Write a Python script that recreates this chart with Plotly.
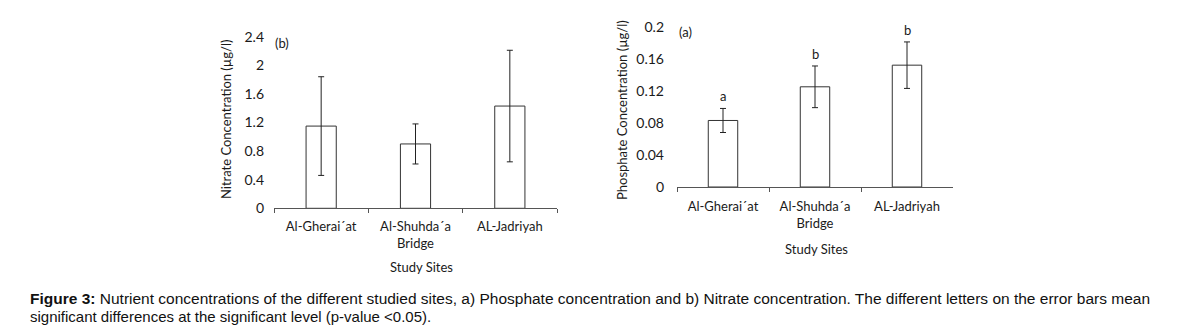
import plotly.graph_objects as go

sites = ["Al-Gherai´at", "Al-Shuhda´a<br>Bridge", "AL-Jadriyah"]

nitrate_mean = [1.15, 0.90, 1.43]
nitrate_err = [0.69, 0.28, 0.78]
nitrate_ticks = [0, 0.4, 0.8, 1.2, 1.6, 2, 2.4]
nitrate_ticktext = ["0", "0.4", "0.8", "1.2", "1.6", "2", "2.4"]

phosphate_mean = [0.083, 0.125, 0.152]
phosphate_err = [0.015, 0.026, 0.029]
phosphate_letters = ["a", "b", "b"]
phosphate_ticks = [0, 0.04, 0.08, 0.12, 0.16, 0.2]
phosphate_ticktext = ["0", "0.04", "0.08", "0.12", "0.16", "0.2"]

# page body has an 8px margin: the figure occupies 8..1180 x 8..336
OFF = 8
W, H = 1180 - OFF, 336 - OFF


def px(x):
    return (x - OFF) / W


def py(y):
    return (H - (y - OFF)) / H


CF = "Lato, 'Open Sans', sans-serif"
TXT = "#1a1a1a"

fig = go.Figure()

bar_style = dict(marker=dict(color="white", line=dict(color="#333333", width=1)),
                 width=0.32, showlegend=False)

fig.add_trace(go.Bar(x=sites, y=nitrate_mean, xaxis="x", yaxis="y",
                     error_y=dict(type="data", array=nitrate_err, color="#222222",
                                  thickness=1, width=3), **bar_style))
fig.add_trace(go.Bar(x=sites, y=phosphate_mean, xaxis="x2", yaxis="y2",
                     error_y=dict(type="data", array=phosphate_err, color="#222222",
                                  thickness=1, width=3), **bar_style))

xcommon = dict(type="category", showline=True, linecolor="#555555", linewidth=1,
               ticks="outside", tickson="boundaries", ticklen=4, tickcolor="#555555",
               tickfont=dict(family=CF, size=13, color=TXT), showgrid=False,
               zeroline=False, fixedrange=True, automargin=False)
ycommon = dict(showline=False, showgrid=False, zeroline=False, ticks="",
               tickfont=dict(family=CF, size=14, color=TXT), fixedrange=True,
               automargin=False)

fig.update_layout(
    width=W, height=H,
    margin=dict(l=0, r=0, t=0, b=0, autoexpand=False),
    paper_bgcolor="white", plot_bgcolor="white",
    xaxis=dict(domain=[px(274), px(557)], anchor="y", ticklabelstandoff=6, **xcommon),
    yaxis=dict(domain=[py(208.3), py(36.7)], anchor="x", range=[0, 2.4],
               tickvals=nitrate_ticks, ticktext=nitrate_ticktext,
               ticklabelstandoff=9, **ycommon),
    xaxis2=dict(domain=[px(677), px(953)], anchor="y2", ticklabelstandoff=7, **xcommon),
    yaxis2=dict(domain=[py(187), py(26.7)], anchor="x2", range=[0, 0.2],
                tickvals=phosphate_ticks, ticktext=phosphate_ticktext,
                ticklabelstandoff=12, **ycommon),
)

ann = []


def paper_text(text, x, y, size=13, angle=0, xanchor="center", family=CF, color=TXT):
    ann.append(dict(text=text, x=px(x), y=py(y), xref="paper", yref="paper",
                    xanchor=xanchor, yanchor="middle", textangle=angle, showarrow=False,
                    font=dict(family=family, size=size, color=color)))


# y axis titles
paper_text("Nitrate Concentration (µg/l)", 226, 120, angle=-90)
paper_text("Phosphate Concentration (µg/l)", 622, 110, angle=-90)
# x axis titles
paper_text("Study Sites", 421, 266.5)
paper_text("Study Sites", 816, 249)
# panel labels
paper_text("(b)", 282, 43)
paper_text("(a)", 685, 31.5)
# significance letters
for s, m, e, l in zip(sites, phosphate_mean, phosphate_err, phosphate_letters):
    ann.append(dict(text=l, x=s, y=m + e, xref="x2", yref="y2", showarrow=False,
                    yanchor="bottom", yshift=2, font=dict(family=CF, size=13, color=TXT)))
# caption
CAP = "Liberation Sans, Arial, sans-serif"
CC = "#111111"
paper_text("<b>Figure 3:</b> Nutrient concentrations of the different studied sites, a) Phosphate "
           "concentration and b) Nitrate concentration. The different letters on the error bars mean",
           28, 298, size=15.5, xanchor="left", family=CAP, color=CC)
paper_text("significant differences at the significant level (p-value <0.05).",
           28, 316.5, size=15, xanchor="left", family=CAP, color=CC)
fig.update_layout(annotations=ann)

fig.write_html("out.html")
